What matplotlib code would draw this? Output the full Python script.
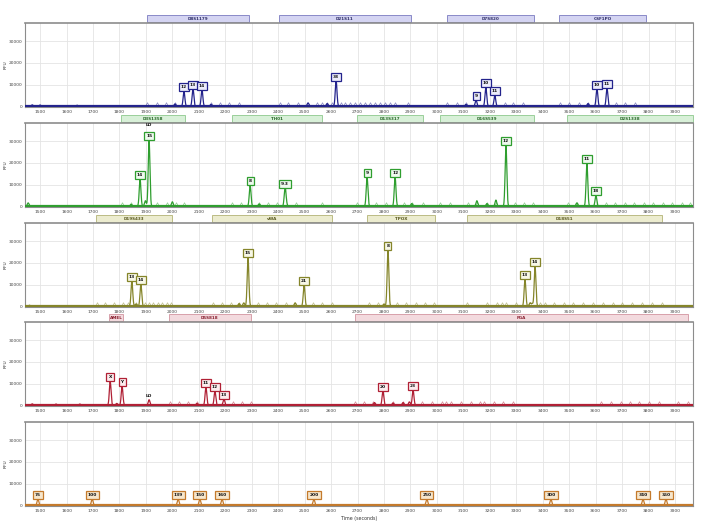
import numpy as np
import matplotlib
matplotlib.use("Agg")
import matplotlib.pyplot as plt
from matplotlib.patches import Rectangle
import matplotlib.transforms as mtransforms

# ---- data ----
x_ticks = list(range(1500, 4000, 100))
y_ticks = [0, 10000, 20000, 30000]

# panel 1 (blue)
loci_1 = ["D8S1179", "D21S11", "D7S820", "CSF1PO"]
loci_1_start = [1904, 2403, 3038, 3461]
loci_1_end = [2290, 2902, 3367, 3790]
peaks_1_x = [2044, 2078, 2112, 2619, 3148, 3185, 3219, 3605, 3643]
peaks_1_h = [6800, 8100, 7600, 11800, 2800, 8600, 5000, 8100, 8200]
peaks_1_lab = ["12", "13", "14", "38", "9", "10", "11", "10", "11"]
minor_1_x = [1470, 1500, 1640, 2010, 2146, 2513, 2585, 3110, 3571]
minor_1_h = [600, 500, 400, 1000, 800, 1500, 1200, 800, 1200]
bins_1 = [1904, 1942, 1976, 2010, 2146, 2180, 2214, 2252, 2407, 2437, 2475,
          2547, 2566, 2585, 2604, 2638, 2653, 2672, 2691, 2710, 2729, 2748,
          2767, 2786, 2805, 2824, 2843, 2890, 3038, 3076, 3110, 3257, 3287,
          3325, 3465, 3499, 3537, 3571, 3677, 3711, 3749]

# panel 2 (green)
loci_2 = ["D3S1358", "TH01", "D13S317", "D16S539", "D2S1338"]
loci_2_start = [1806, 2225, 2698, 3012, 3492]
loci_2_end = [2048, 2566, 2947, 3367, 3968]
peaks_2_x = [1878, 1912, 2294, 2426, 2736, 2842, 3261, 3567, 3601]
peaks_2_h = [12400, 30400, 9700, 8300, 13400, 13400, 28100, 19800, 5000]
peaks_2_lab = ["14", "15", "8", "9.3", "9", "12", "12", "11", "18"]
minor_2_x = [1455, 1844, 1898, 2000, 2328, 2430, 2905, 3151, 3189, 3223, 3529]
minor_2_h = [1500, 800, 2500, 2000, 1000, 1400, 1200, 2500, 1200, 2800, 1500]
bins_2 = [1810, 1844, 1942, 1980, 2014, 2044, 2226, 2260, 2328, 2362, 2396,
          2467, 2566, 2698, 2770, 2808, 2876, 2906, 2947, 3012, 3049, 3117,
          3151, 3189, 3223, 3295, 3329, 3363, 3495, 3529, 3639, 3673, 3711,
          3745, 3783, 3817, 3854, 3888, 3926, 3955]

# panel 3 (olive)
loci_3 = ["D19S433", "vWA", "TPOX", "D18S51"]
loci_3_start = [1712, 2150, 2736, 3114]
loci_3_end = [1999, 2604, 2993, 3851]
peaks_3_x = [1847, 1881, 2286, 2498, 2815, 3333, 3371]
peaks_3_h = [11500, 10100, 22600, 9700, 25800, 12400, 18400]
peaks_3_lab = ["13", "14", "15", "21", "8", "13", "14"]
minor_3_x = [1460, 1863, 2252, 2270, 2464, 2800, 3352, 3360]
minor_3_h = [400, 1000, 1200, 1500, 1500, 1000, 1500, 1200]
bins_3 = [1715, 1746, 1780, 1814, 1833, 1863, 1897, 1912, 1927, 1946, 1961,
          1980, 1995, 2154, 2188, 2222, 2252, 2324, 2358, 2392, 2430, 2464,
          2532, 2566, 2604, 2743, 2777, 2849, 2883, 2921, 2955, 2989, 3114,
          3189, 3227, 3246, 3261, 3299, 3352, 3390, 3408, 3442, 3480, 3514,
          3552, 3590, 3628, 3665, 3699, 3737, 3775, 3813, 3851]

# panel 4 (red)
loci_4 = ["AMEL", "D5S818", "FGA"]
loci_4_start = [1761, 1987, 2690]
loci_4_end = [1814, 2297, 3949]
peaks_4_x = [1765, 1810, 2127, 2161, 2195, 2796, 2910]
peaks_4_h = [11000, 8700, 8300, 6400, 2800, 6400, 6900]
peaks_4_lab = ["X", "Y", "11", "12", "13", "20", "23"]
minor_4_x = [1470, 1560, 1650, 1790, 1912, 2093, 2764, 2834, 2872, 2896]
minor_4_h = [600, 500, 500, 800, 2500, 800, 1200, 1000, 1200, 1500]
bins_4 = [1991, 2025, 2059, 2093, 2229, 2263, 2297, 2690, 2724, 2758, 2834,
          2872, 2944, 2981, 3019, 3034, 3053, 3091, 3129, 3163, 3178, 3216,
          3250, 3288, 3620, 3658, 3696, 3730, 3764, 3801, 3839, 3911, 3949]

# panel 5 (orange size standard)
peaks_5_x = [1492, 1697, 2022, 2104, 2188, 2535, 2962, 3431, 3779, 3866]
peaks_5_h = [2800, 2800, 2800, 2800, 2800, 2800, 2800, 2800, 2800, 2800]
peaks_5_lab = ["75", "100", "139", "150", "160", "200", "250", "300", "340", "350"]

# LO flags (x, height of the text anchor)
lo_2 = [(1912, 30400)]
lo_4 = [(1912, 2500)]

panels = [
    dict(loci=loci_1, ls=loci_1_start, le=loci_1_end, px=peaks_1_x, ph=peaks_1_h,
         pl=peaks_1_lab, mx=minor_1_x, mh=minor_1_h, bins=bins_1, lo=[],
         color="#23238c", bar_fc="#d4d4f2", bar_ec="#8a8ac8", box_fc="#ececfa",
         txt="#30306a", ylabel="RFU"),
    dict(loci=loci_2, ls=loci_2_start, le=loci_2_end, px=peaks_2_x, ph=peaks_2_h,
         pl=peaks_2_lab, mx=minor_2_x, mh=minor_2_h, bins=bins_2, lo=lo_2,
         color="#2f9e2f", bar_fc="#d8f0d8", bar_ec="#9acf9a", box_fc="#eef9ee",
         txt="#2a6a2a", ylabel="RFU"),
    dict(loci=loci_3, ls=loci_3_start, le=loci_3_end, px=peaks_3_x, ph=peaks_3_h,
         pl=peaks_3_lab, mx=minor_3_x, mh=minor_3_h, bins=bins_3, lo=[],
         color="#85852a", bar_fc="#ececcf", bar_ec="#bcbc84", box_fc="#f7f7e6",
         txt="#5a5a20", ylabel="RFU"),
    dict(loci=loci_4, ls=loci_4_start, le=loci_4_end, px=peaks_4_x, ph=peaks_4_h,
         pl=peaks_4_lab, mx=minor_4_x, mh=minor_4_h, bins=bins_4, lo=lo_4,
         color="#b02035", bar_fc="#f3dade", bar_ec="#d8a0aa", box_fc="#fbecee",
         txt="#8a2030", ylabel="RFU"),
    dict(loci=[], ls=[], le=[], px=peaks_5_x, ph=peaks_5_h,
         pl=peaks_5_lab, mx=[], mh=[], bins=[], lo=[],
         color="#c47a2c", bar_fc="#f5e6cf", bar_ec="#d8b080", box_fc="#f6e6cc",
         txt="#7a4a10", ylabel="RFU"),
]

# panel vertical extents in pixels (top, bottom)
rows_px = [(23, 107), (123, 207), (223, 307), (322, 406), (422, 506)]
W, H = 703, 531

fig = plt.figure(figsize=(W / 100, H / 100), dpi=100)
fig.patch.set_facecolor("white")

t = np.linspace(1440, 3970, 8000)

for i, (p, (top, bot)) in enumerate(zip(panels, rows_px)):
    ax = fig.add_axes([25 / W, 1 - bot / H, 668 / W, (bot - top) / H])
    ax.set_xlim(1443, 3968)
    ax.set_ylim(-400, 38500)

    # trace built from the peak list
    trace = np.zeros_like(t)
    for x, h in zip(list(p["px"]) + list(p["mx"]), list(p["ph"]) + list(p["mh"])):
        trace += h * np.exp(-0.5 * ((t - x) / 3.2) ** 2)
    ax.plot(t, trace, color=p["color"], lw=0.9, zorder=3)
    ax.axhline(0, color=p["color"], lw=1.6, zorder=3)

    # bin markers
    if p["bins"]:
        ax.plot(p["bins"], [900] * len(p["bins"]), linestyle="none", marker="^",
                ms=2.6, mfc="none", mec=p["color"], mew=0.5, alpha=0.55, zorder=2)

    # peak labels
    for x, h, lab in zip(p["px"], p["ph"], p["pl"]):
        ax.annotate(lab, (x, h), xytext=(0, 1.5), textcoords="offset points",
                    ha="center", va="bottom", fontsize=3.2, fontweight="bold",
                    color="#111111", zorder=5,
                    bbox=dict(boxstyle="square,pad=0.45", fc=p["box_fc"],
                              ec=p["color"], lw=0.9))
    for x, h in p["lo"]:
        off = 10 if h > 10000 else 1.5
        ax.annotate("LO", (x, h), xytext=(0, off), textcoords="offset points",
                    ha="center", va="bottom", fontsize=3.2, fontweight="bold",
                    color="#111111", zorder=5)

    # locus bars above the panel
    trans = mtransforms.blended_transform_factory(ax.transData, ax.transAxes)
    for name, s, e in zip(p["loci"], p["ls"], p["le"]):
        ax.add_patch(Rectangle((s, 1.01), e - s, 0.08, transform=trans,
                               fc=p["bar_fc"], ec=p["bar_ec"], lw=0.7, clip_on=False))
        ax.text((s + e) / 2, 1.05, name, transform=trans, ha="center", va="center",
                fontsize=3.0, color=p["txt"], fontweight="bold")

    ax.set_xticks(x_ticks)
    ax.set_yticks(y_ticks)
    ax.set_yticklabels([str(v) for v in y_ticks])
    ax.tick_params(length=0, labelsize=3.2, colors="#444444", pad=2)
    ax.grid(True, color="#e4e4e4", lw=0.6)
    ax.set_axisbelow(True)
    for side, sp in ax.spines.items():
        sp.set_color("#8c8c8c")
        sp.set_linewidth(0.8)
    ax.spines["top"].set_linewidth(1.2)
    ax.set_ylabel(p["ylabel"], fontsize=3.2, color="#333333")
    ax.yaxis.set_label_coords(-0.026, 0.5)
    if i == 4:
        ax.set_xlabel("Time (seconds)", fontsize=3.4, labelpad=2, color="#333333")

fig.savefig("out.png", dpi=100, facecolor="white")
